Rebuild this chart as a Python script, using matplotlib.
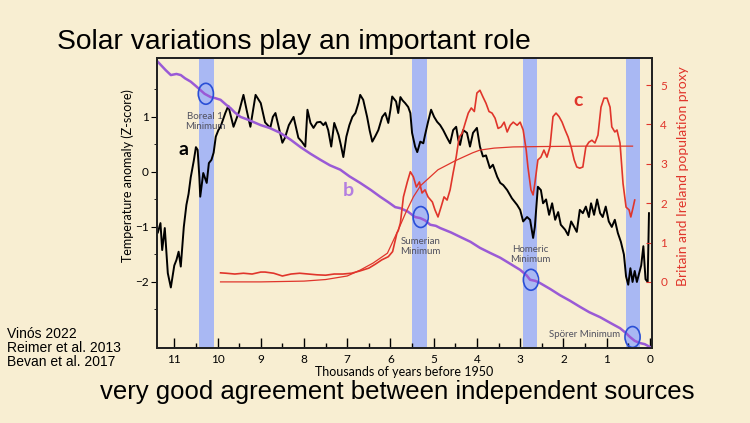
import matplotlib
matplotlib.use("Agg")
import matplotlib.pyplot as plt
from matplotlib.patches import Ellipse

# --- data (thousands of years before 1950) ---
temp_kyr = [11.38, 11.32, 11.28, 11.22, 11.15, 11.08, 11.0, 10.95, 10.9, 10.85, 10.78, 10.72,
            10.67, 10.62, 10.55, 10.5, 10.46, 10.42, 10.4, 10.33, 10.25, 10.2, 10.14, 10.09,
            10.04, 9.98, 9.93, 9.82, 9.75, 9.63, 9.5, 9.4, 9.32, 9.24, 9.12, 9.0, 8.9, 8.78,
            8.72, 8.66, 8.58, 8.5, 8.44, 8.35, 8.24, 8.13, 8.05, 7.97, 7.92, 7.85, 7.78, 7.7,
            7.62, 7.55, 7.5, 7.44, 7.37, 7.3, 7.2, 7.15, 7.09, 7.02, 6.95, 6.88, 6.81, 6.74,
            6.7, 6.63, 6.54, 6.48, 6.42, 6.35, 6.28, 6.19, 6.12, 6.05, 6.0, 5.96, 5.87, 5.82,
            5.77, 5.72, 5.66, 5.59, 5.54, 5.5, 5.43, 5.38, 5.31, 5.24, 5.2, 5.13, 5.06, 4.99,
            4.92, 4.85, 4.78, 4.69, 4.62, 4.55, 4.48, 4.43, 4.39, 4.32, 4.23, 4.16, 4.09, 4.0,
            3.93, 3.86, 3.79, 3.7, 3.63, 3.53, 3.46, 3.39, 3.3, 3.19, 3.07, 3.0, 2.93, 2.84,
            2.77, 2.7, 2.66, 2.59, 2.52, 2.47, 2.4, 2.33, 2.26, 2.19, 2.12, 2.06, 1.96, 1.89,
            1.82, 1.75, 1.69, 1.62, 1.55, 1.48, 1.41, 1.36, 1.29, 1.22, 1.15, 1.09, 1.02, 0.95,
            0.88, 0.81, 0.74, 0.67, 0.6, 0.55, 0.5, 0.45, 0.4, 0.35, 0.3, 0.25, 0.2, 0.15, 0.1,
            0.05, 0.02]
temp_z = [-1.1, -0.93, -1.42, -1.02, -1.84, -2.1, -1.7, -1.6, -1.45, -1.72, -1.0, -0.6,
          -0.4, -0.1, 0.2, 0.45, 0.4, -0.1, -0.45, -0.02, -0.2, 0.16, 0.22, 0.35,
          0.64, 0.76, 0.82, 1.07, 1.2, 0.82, 1.1, 1.4, 1.1, 0.82, 1.4, 1.25, 0.9, 0.8,
          1.0, 1.07, 0.8, 0.53, 0.62, 0.85, 1.0, 0.62, 0.55, 0.46, 1.13, 0.89, 0.8, 0.9,
          0.91, 0.85, 0.9, 0.76, 0.46, 0.89, 0.67, 0.5, 0.27, 0.64, 0.85, 1.0, 1.07, 1.25,
          1.4, 1.31, 1.0, 0.75, 0.55, 0.65, 0.76, 1.0, 1.07, 0.89, 1.13, 1.37, 1.28, 1.07,
          1.36, 1.3, 1.25, 1.18, 1.07, 0.71, 0.46, 0.36, 0.55, 0.52, 0.67, 0.91, 1.13, 1.0,
          0.91, 0.85, 0.76, 0.62, 0.52, 0.76, 0.82, 0.58, 0.49, 0.76, 0.71, 0.46, 0.71, 0.8,
          0.46, 0.28, 0.3, 0.07, 0.13, -0.09, -0.2, -0.24, -0.33, -0.48, -0.6, -0.69, -0.9, -0.82,
          -0.87, -1.2, -1.0, -0.27, -0.33, -0.57, -0.5, -0.78, -0.57, -0.87, -0.73, -0.96, -1.05, -1.15,
          -0.9, -1.0, -1.09, -0.69, -0.75, -0.63, -0.82, -0.57, -0.78, -0.5, -0.75, -0.82, -0.63, -0.9,
          -1.0, -0.87, -1.11, -1.27, -1.5, -1.9, -2.05, -1.75, -2.0, -1.8, -2.0, -1.85, -1.7, -1.35, -1.95,
          -2.0, -0.75]

c14_kyr = [11.38, 11.2, 11.08, 10.95, 10.85, 10.75, 10.62, 10.5, 10.4, 10.3, 10.16, 10.05,
           9.93, 9.8, 9.7, 9.6, 9.47, 9.3, 9.15, 9.0, 8.8, 8.55, 8.3, 8.08, 7.85, 7.62, 7.4,
           7.16, 6.95, 6.7, 6.45, 6.24, 6.05, 5.89, 5.77, 5.6, 5.43, 5.31, 5.2, 5.08, 4.95,
           4.85, 4.6, 4.39, 4.15, 3.93, 3.7, 3.46, 3.25, 3.0, 2.85, 2.77, 2.65, 2.54, 2.3,
           2.08, 1.85, 1.62, 1.4, 1.15, 0.9, 0.69, 0.55, 0.46, 0.35, 0.23, 0.12, 0.0]
c14_val = [2.0, 1.85, 1.76, 1.78, 1.76, 1.7, 1.64, 1.56, 1.49, 1.42, 1.36, 1.34,
           1.31, 1.22, 1.16, 1.08, 1.0, 0.95, 0.9, 0.85, 0.8, 0.71, 0.58, 0.45, 0.33, 0.22, 0.12,
           0.04, -0.08, -0.2, -0.33, -0.45, -0.55, -0.64, -0.66, -0.72, -0.82, -0.84, -0.88, -0.96, -0.98,
           -1.02, -1.1, -1.18, -1.27, -1.38, -1.47, -1.56, -1.66, -1.78, -1.88, -1.96, -1.98, -2.02, -2.13,
           -2.24, -2.34, -2.45, -2.55, -2.64, -2.75, -2.84, -2.93, -3.0, -3.07, -3.11, -3.13, -3.18]

pop_kyr = [9.93, 9.8, 9.6, 9.4, 9.2, 9.0, 8.9, 8.7, 8.5, 8.3, 8.1, 7.9, 7.7, 7.5, 7.3, 7.1,
           6.9, 6.7, 6.5, 6.35, 6.2, 6.05, 5.95, 5.85, 5.82, 5.77, 5.7, 5.61, 5.54, 5.47, 5.4,
           5.33, 5.27, 5.2, 5.13, 5.03, 4.97, 4.9, 4.83, 4.76, 4.69, 4.62, 4.55, 4.48, 4.41,
           4.34, 4.27, 4.2, 4.13, 4.06, 4.0, 3.93, 3.86, 3.79, 3.72, 3.65, 3.58, 3.51, 3.44,
           3.37, 3.3, 3.23, 3.16, 3.07, 3.0, 2.93, 2.86, 2.82, 2.75, 2.7, 2.66, 2.59, 2.52,
           2.45, 2.38, 2.31, 2.24, 2.17, 2.1, 2.03, 1.96, 1.89, 1.82, 1.75, 1.69, 1.62, 1.55,
           1.48, 1.41, 1.34, 1.27, 1.2, 1.13, 1.06, 0.99, 0.92, 0.88, 0.81, 0.76, 0.69, 0.62,
           0.55, 0.48, 0.44, 0.39, 0.35]
pop_val = [0.23, 0.22, 0.2, 0.22, 0.2, 0.25, 0.25, 0.22, 0.15, 0.2, 0.22, 0.2, 0.18, 0.17, 0.2, 0.2,
           0.22, 0.28, 0.35, 0.45, 0.56, 0.64, 0.77, 1.24, 1.3, 1.5, 2.16, 2.54, 2.8, 2.67, 2.41,
           2.54, 2.26, 2.34, 2.16, 2.03, 1.83, 1.65, 1.9, 2.16, 2.08, 2.34, 2.77, 3.17, 3.68,
           3.78, 4.04, 4.29, 4.42, 4.33, 4.8, 4.87, 4.7, 4.54, 4.33, 4.29, 4.16, 3.9, 3.94,
           4.06, 3.81, 3.98, 4.06, 3.98, 4.06, 3.86, 3.35, 2.92, 2.34, 2.21, 2.5, 3.1, 3.17,
           3.35, 3.17, 3.43, 4.2, 4.29, 4.2, 4.06, 3.86, 3.68, 3.43, 3.1, 2.92, 2.89, 2.92,
           3.43, 3.55, 3.6, 3.53, 3.73, 4.44, 4.67, 4.67, 4.44, 3.94, 3.81, 3.86, 3.53, 2.5,
           1.9, 1.83, 1.65, 1.88, 2.08]

fit_kyr = [9.93, 9.0, 8.0, 7.5, 7.0, 6.7, 6.4, 6.07, 5.82, 5.65, 5.47, 5.3, 5.08, 4.9, 4.69,
           4.5, 4.32, 4.1, 3.93, 3.6, 3.16, 2.5, 1.5, 0.8, 0.4]
fit_val = [0.0, 0.0, 0.02, 0.06, 0.15, 0.3, 0.48, 0.73, 1.32, 1.75, 2.16, 2.45, 2.67, 2.85, 2.97,
           3.08, 3.17, 3.28, 3.35, 3.4, 3.43, 3.44, 3.45, 3.45, 3.45]

minima_names = ["Boreal 1\nMinimum", "Sumerian\nMinimum", "Homeric\nMinimum", "Spörer Minimum"]
minima_start = [10.44, 5.50, 2.93, 0.55]
minima_end = [10.09, 5.15, 2.61, 0.23]
circle_kyr = [10.27, 5.30, 2.75, 0.40]
circle_val = [1.42, -0.82, -1.96, -3.0]
label_kyr = [10.28, 5.31, 2.77, 1.5]
label_val = [0.91, -1.36, -1.5, -2.96]

bg = "#f8eed2"
band = "#a9b8f3"
red = "#e0352b"
purple = "#9a5ad6"

fig = plt.figure(figsize=(7.5, 4.23), dpi=100, facecolor=bg)
ax = fig.add_axes([157/750, 1-348/423, 495/750, 290/423])
ax.set_facecolor(bg)
ax2 = ax.twinx()

for s, e in zip(minima_start, minima_end):
    ax.axvspan(s, e, color=band, lw=0, zorder=0)

ax.plot(temp_kyr, temp_z, color="black", lw=1.4, zorder=3)
ax.plot(c14_kyr, c14_val, color=purple, lw=1.8, zorder=4)
ax2.plot(pop_kyr, pop_val, color=red, lw=1.2, zorder=3)
ax2.plot(fit_kyr, fit_val, color=red, lw=0.9, zorder=3)

for cx, cy in zip(circle_kyr, circle_val):
    ax.add_patch(Ellipse((cx, cy), 0.35, 0.38, fill=False, edgecolor="#2a4fd6", lw=1.2, zorder=5))

inner_font = ["Lato", "DejaVu Sans"]
for name, lx, ly in zip(minima_names, label_kyr, label_val):
    ax.text(lx, ly, name, ha="center", va="center", fontsize=7, color="#50505e",
            family=inner_font, linespacing=1.1, zorder=6)

ax.text(10.78, 0.4, "a", fontsize=14, fontweight="bold", color="black", ha="center", va="center",
        family=inner_font)
ax.text(6.97, -0.33, "b", fontsize=14, fontweight="bold", color="#b47fe0", ha="center", va="center",
        family=inner_font)
ax2.text(1.66, 4.62, "c", fontsize=14, fontweight="bold", color=red, ha="center", va="center",
         family=inner_font)

ax.set_xlim(11.4, -0.05)
ax.set_ylim(-3.2, 2.07)
ax2.set_ylim(-1.68, 5.69)

ax.set_xticks(range(0, 12))
ax.set_xticks([x + 0.5 for x in range(0, 11)], minor=True)
ax.tick_params(axis="x", which="major", direction="in", length=7, width=1, labelsize=8.5, pad=4)
ax.tick_params(axis="x", which="minor", direction="in", length=3.5, width=1)
ax.set_yticks([-2, -1, 0, 1])
ax.set_yticks([-2.5, -1.5, -0.5, 0.5, 1.5], minor=True)
ax.tick_params(axis="y", which="major", direction="out", length=4, labelsize=8.5, pad=2)
ax.tick_params(axis="y", which="minor", direction="out", length=2.5)
ax.tick_params(top=False, right=False)
ax2.set_yticks([0, 1, 2, 3, 4, 5])
ax2.tick_params(axis="y", direction="in", length=4, colors=red, labelsize=8.5, pad=6)
for lab in ax.get_xticklabels() + ax.get_yticklabels() + ax2.get_yticklabels():
    lab.set_family(inner_font)

for sp in list(ax.spines.values()) + list(ax2.spines.values()):
    sp.set_linewidth(1.3)
    sp.set_color("#222222")

ax.set_xlabel("Thousands of years before 1950", fontsize=9, family=inner_font, labelpad=1)
ax.set_ylabel("Temperature anomaly (Z-score)", fontsize=9, family=inner_font)
ax.yaxis.set_label_coords(-0.047, 0.593)
ax2.set_ylabel("Britain and Ireland population proxy", fontsize=10, color=red, family=inner_font)
ax2.yaxis.set_label_coords(1.05, 0.593)

slide_font = ["Liberation Sans", "DejaVu Sans"]
fig.text(57/750, 1-49/423, "Solar variations play an important role", fontsize=20.3,
         family=slide_font, ha="left", va="baseline")
fig.text(100/750, 1-399/423, "very good agreement between independent sources", fontsize=18.5,
         family=slide_font, ha="left", va="baseline")
fig.text(7/750, 1-338/423, "Vinós 2022", fontsize=10, family=slide_font, va="baseline")
fig.text(7/750, 1-352/423, "Reimer et al. 2013", fontsize=10, family=slide_font, va="baseline")
fig.text(7/750, 1-366/423, "Bevan et al. 2017", fontsize=10, family=slide_font, va="baseline")

fig.savefig("out.png", dpi=100, facecolor=bg)
